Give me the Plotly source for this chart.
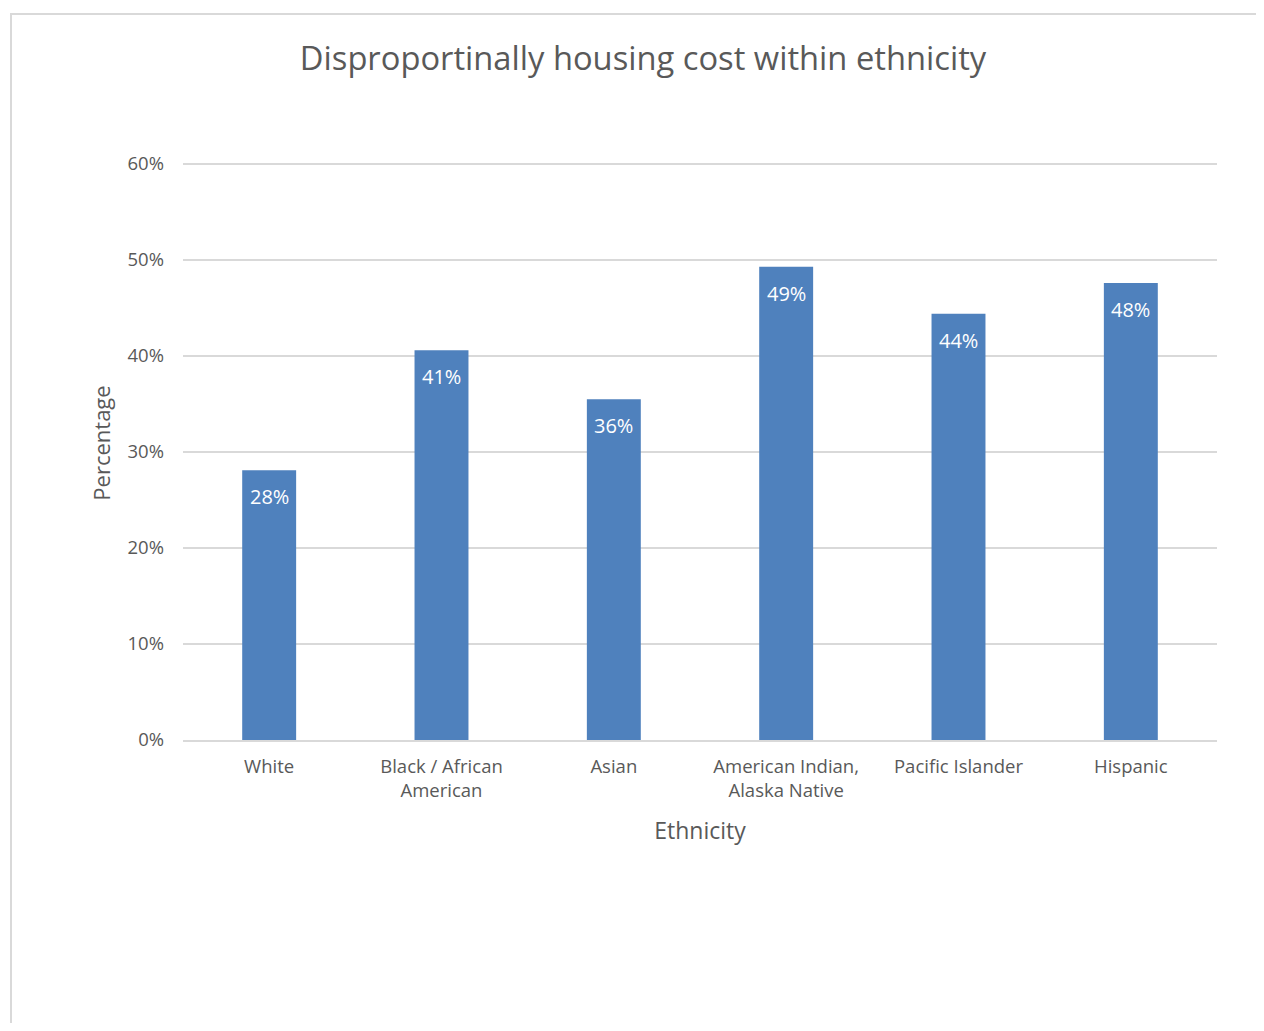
import plotly.graph_objects as go

categories = ["White", "Black / African<br>American", "Asian", "American Indian,<br>Alaska Native", "Pacific Islander", "Hispanic"]
values = [0.281, 0.406, 0.355, 0.493, 0.444, 0.476]
y_ticks = [0, 0.1, 0.2, 0.3, 0.4, 0.5, 0.6]

FONT = "Open Sans"
GRAY = "#595959"

fig = go.Figure()
fig.add_trace(go.Bar(x=categories, y=values, marker=dict(color="#4f81bd", line=dict(width=0)),
                     hoverinfo="skip"))

for c, v in zip(categories, values):
    fig.add_annotation(x=c, y=v, text=f"{round(v*100):.0f}%", showarrow=False,
                       yanchor="top", yshift=-11, font=dict(family=FONT, size=20, color="white"))

OFF = 8  # page body margin
W, H = 1248, 1015
L, T = 183 - OFF, 146 - OFF
R, B = W - (1217 - OFF), H - (740 - OFF)
pw, ph = W - L - R, H - T - B
ytop = 0.6 * ph / 576.0

fig.update_layout(
    width=W, height=H,
    margin=dict(l=L, r=R, t=T, b=B),
    paper_bgcolor="white", plot_bgcolor="white",
    bargap=0.687,
    showlegend=False,
    title=dict(text="Disproportinally housing cost within ethnicity",
               x=(643 - 183) / pw, xref="paper", xanchor="center",
               y=1 - (59 - OFF) / H, yanchor="middle",
               font=dict(family=FONT, size=32.7, color=GRAY)),
    font=dict(family=FONT, color=GRAY),
    xaxis=dict(showgrid=False, showline=True, linecolor="#d9d9d9", linewidth=1.5,
               tickfont=dict(family=FONT, size=18.5, color=GRAY), ticklabelstandoff=9,
               title=dict(text="Ethnicity", font=dict(family=FONT, size=23, color=GRAY), standoff=22)),
    yaxis=dict(range=[0, ytop], tickvals=y_ticks, tickformat=".0%", showgrid=True,
               gridcolor="#d9d9d9", gridwidth=1.5, zeroline=False,
               tickfont=dict(family=FONT, size=18.5, color=GRAY), ticklabelstandoff=18,
               title=dict(text="Percentage", font=dict(family=FONT, size=22, color=GRAY), standoff=10)),
    shapes=[dict(type="rect", xref="paper", yref="paper",
                 x0=(11 - 183) / pw, x1=(1300 - 183) / pw,
                 y0=(740 - 1100) / ph * (576.0 / ph) * (ph / 576.0), y1=(740 - 14) / ph,
                 line=dict(color="#d9d9d9", width=2), fillcolor="rgba(0,0,0,0)", layer="below")],
)

fig.write_html("out.html")
